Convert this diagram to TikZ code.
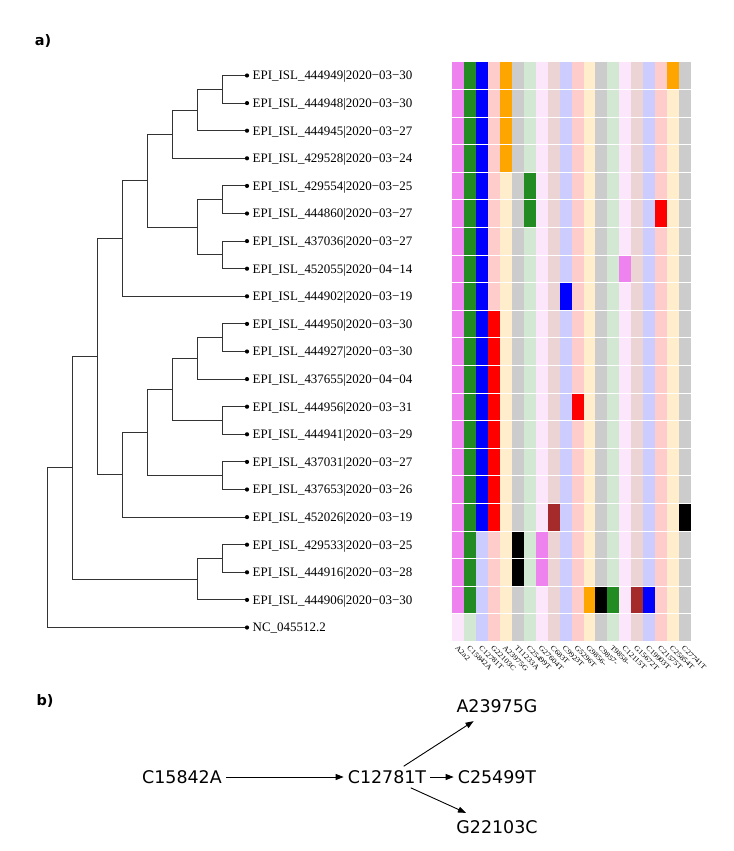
\documentclass[tikz,border=0pt]{standalone}
\usepackage{fontspec}
\setmainfont{Liberation Serif}
\newfontfamily\dvs{DejaVu Sans}
\newfontfamily\treefam{Liberation Serif}
\newfontfamily\colfam[FakeStretch=1.15]{Liberation Serif}
\usetikzlibrary{arrows.meta}
\definecolor{cV}{HTML}{EE82EE}
\definecolor{cG}{HTML}{228B22}
\definecolor{cB}{HTML}{0000FF}
\definecolor{cR}{HTML}{FF0000}
\definecolor{cO}{HTML}{FFA500}
\definecolor{cK}{HTML}{000000}
\definecolor{cN}{HTML}{A52A2A}
\colorlet{col1}{cV}\colorlet{col2}{cG}\colorlet{col3}{cB}\colorlet{col4}{cR}
\colorlet{col5}{cO}\colorlet{col6}{cK}\colorlet{col7}{cG}\colorlet{col8}{cV}
\colorlet{col9}{cN}\colorlet{col10}{cB}\colorlet{col11}{cR}\colorlet{col12}{cO}
\colorlet{col13}{cK}\colorlet{col14}{cG}\colorlet{col15}{cV}\colorlet{col16}{cN}
\colorlet{col17}{cB}\colorlet{col18}{cR}\colorlet{col19}{cO}\colorlet{col20}{cK}
\newcommand\treefont{\treefam\fontsize{13}{15}\selectfont}
\newcommand\colfont{\colfam\fontsize{7.2}{8}\selectfont}
\begin{document}
\begin{tikzpicture}[x=1bp,y=-1bp,
  br/.style={draw=black!80, line width=0.9bp},
  tipdot/.style={circle, fill=black, inner sep=0pt, minimum size=4.2bp},
  lab/.style={anchor=base west, inner sep=0pt, xshift=5.5bp, yshift=-4.3bp, font=\treefont},
  collab/.style={anchor=west, inner sep=0pt, rotate=-45, font=\colfont},
  bnode/.style={font=\dvs\fontsize{17.5}{20}\selectfont, inner sep=4bp},
  arr/.style={-{Triangle[length=8bp,width=6bp]}, line width=0.9bp},
  panel/.style={font=\dvs\bfseries\fontsize{14.5}{16}\selectfont, inner sep=0pt}]
\useasboundingbox (0,0) rectangle (734,851);
\fill[white] (0,0) rectangle (734,851);

% panel labels
\node[panel] (pa) at (43,41) {a)};
\node[panel] (pb) at (45,701) {b)};

% heatmap background columns
\foreach \c in {1,...,20} {
  \pgfmathsetmacro\xa{452.3+11.93*(\c-1)}
  \pgfmathsetmacro\xb{\xa+11.93}
  \fill[col\c!20] (\xa,61.7) rectangle (\xb,641.3);
}
% dark cells
\foreach \r/\cl in {1/{1,2,3,5,19},2/{1,2,3,5},3/{1,2,3,5},4/{1,2,3,5},
  5/{1,2,3,7},6/{1,2,3,7,18},7/{1,2,3},8/{1,2,3,15},9/{1,2,3,10},
  10/{1,2,3,4},11/{1,2,3,4},12/{1,2,3,4},13/{1,2,3,4,11},14/{1,2,3,4},
  15/{1,2,3,4},16/{1,2,3,4},17/{1,2,3,4,9,20},18/{1,2,6,8},19/{1,2,6,8},
  20/{1,2,12,13,14,16,17}} {
  \foreach \c in \cl {
    \pgfmathsetmacro\xa{452.3+11.93*(\c-1)}
    \pgfmathsetmacro\xb{\xa+11.93}
    \pgfmathsetmacro\ya{61.7+27.6*(\r-1)}
    \pgfmathsetmacro\yb{\ya+27.6}
    \fill[col\c] (\xa,\ya) rectangle (\xb,\yb);
  }
}
% white row separators
\foreach \r in {1,...,20} {
  \draw[white, line width=0.8bp] (452.3,{61.7+27.6*\r}) -- (691,{61.7+27.6*\r});
}
% column labels
\foreach \c/\txt in {1/A2a2,2/C15842A,3/C12781T,4/G22103C,5/A23975G,6/T11233A,
  7/C25499T,8/G27604T,9/C683T,10/C9923T,11/G5296T,12/G9856-,13/C9857-,
  14/T9858-,15/C12115T,16/G15672T,17/C19903T,18/C21575T,19/C25854T,20/C27741T} {
  \node[collab] (c\c) at ({452.3+11.93*(\c-0.5)-2},646.5) {\txt};
}

% tree tips
\foreach \i in {1,...,21} {
  \node[tipdot] (t\i) at (247,{75.5+27.6*(\i-1)}) {};
}
\foreach \i/\txt in {1/{444949|2020−03−30},2/{444948|2020−03−30},3/{444945|2020−03−27},
  4/{429528|2020−03−24},5/{429554|2020−03−25},6/{444860|2020−03−27},
  7/{437036|2020−03−27},8/{452055|2020−04−14},9/{444902|2020−03−19},
  10/{444950|2020−03−30},11/{444927|2020−03−30},12/{437655|2020−04−04},
  13/{444956|2020−03−31},14/{444941|2020−03−29},15/{437031|2020−03−27},
  16/{437653|2020−03−26},17/{452026|2020−03−19},18/{429533|2020−03−25},
  19/{444916|2020−03−28},20/{444906|2020−03−30}} {
  \node[lab] (l\i) at (t\i.center) {EPI\_ISL\_\txt};
}
\node[lab] (l21) at (t21.center) {NC\_045512.2};

% internal nodes
\coordinate (K) at (222,89.3);
\coordinate (J) at (197,110);
\coordinate (H) at (172,134.15);
\coordinate (L) at (222,199.7);
\coordinate (M) at (222,254.9);
\coordinate (I) at (197,227.3);
\coordinate (G) at (147,180.725);
\coordinate (E) at (122,238.51);
\coordinate (S) at (222,337.7);
\coordinate (Q) at (197,358.4);
\coordinate (R) at (222,420.5);
\coordinate (O) at (172,389.45);
\coordinate (P) at (222,475.7);
\coordinate (N) at (147,432.575);
\coordinate (F) at (122,474.84);
\coordinate (B) at (97,356.67);
\coordinate (D) at (222,558.5);
\coordinate (C) at (197,579.2);
\coordinate (A) at (72,467.94);
\coordinate (Rt) at (47,547.7);

\draw[br] (K) |- (t1); \draw[br] (K) |- (t2);
\draw[br] (J) |- (K);  \draw[br] (J) |- (t3);
\draw[br] (H) |- (J);  \draw[br] (H) |- (t4);
\draw[br] (L) |- (t5); \draw[br] (L) |- (t6);
\draw[br] (M) |- (t7); \draw[br] (M) |- (t8);
\draw[br] (I) |- (L);  \draw[br] (I) |- (M);
\draw[br] (G) |- (H);  \draw[br] (G) |- (I);
\draw[br] (E) |- (G);  \draw[br] (E) |- (t9);
\draw[br] (S) |- (t10); \draw[br] (S) |- (t11);
\draw[br] (Q) |- (S);  \draw[br] (Q) |- (t12);
\draw[br] (R) |- (t13); \draw[br] (R) |- (t14);
\draw[br] (O) |- (Q);  \draw[br] (O) |- (R);
\draw[br] (P) |- (t15); \draw[br] (P) |- (t16);
\draw[br] (N) |- (O);  \draw[br] (N) |- (P);
\draw[br] (F) |- (N);  \draw[br] (F) |- (t17);
\draw[br] (B) |- (E);  \draw[br] (B) |- (F);
\draw[br] (D) |- (t18); \draw[br] (D) |- (t19);
\draw[br] (C) |- (D);  \draw[br] (C) |- (t20);
\draw[br] (A) |- (B);  \draw[br] (A) |- (C);
\draw[br] (Rt) |- (A); \draw[br] (Rt) |- (t21);

% panel b
\node[bnode] (n1) at (182,777) {C15842A};
\node[bnode] (n2) at (387,777) {C12781T};
\node[bnode] (n3) at (497,706) {A23975G};
\node[bnode] (n4) at (497,777) {C25499T};
\node[bnode] (n5) at (497,827) {G22103C};
\draw[arr] (n1) -- (n2);
\draw[arr] (n2) -- (n4);
\draw[arr, shorten >=8bp] (n2) -- (n3);
\draw[arr, shorten >=8bp] (n2) -- (n5);
\end{tikzpicture}
\end{document}
